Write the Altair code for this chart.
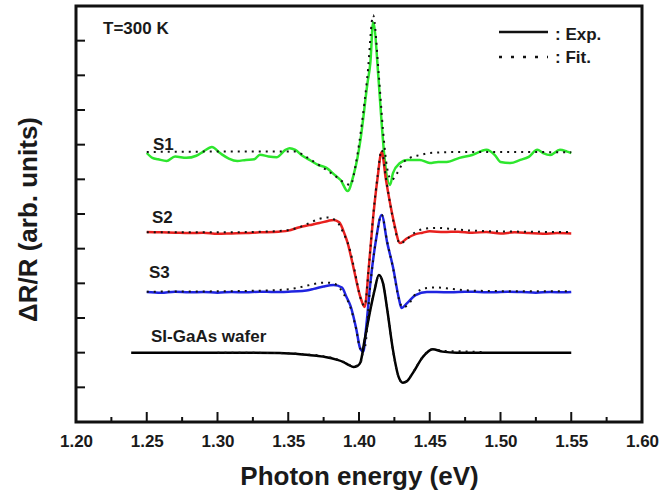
import altair as alt
import pandas as pd

# ---- photoreflectance spectra (ΔR/R, arbitrary units, offset per sample) ----
# SI-GaAs wafer
si_E = [1.239, 1.26, 1.28, 1.30, 1.32, 1.344, 1.360, 1.370, 1.377, 1.384, 1.389, 1.393,
        1.396, 1.399, 1.401, 1.404, 1.408, 1.411, 1.414, 1.417, 1.420, 1.424, 1.428,
        1.431, 1.434, 1.438, 1.445, 1.452, 1.459, 1.469, 1.48, 1.50, 1.52, 1.55]
si_R = [2.00, 2.00, 2.00, 2.00, 2.00, 1.99, 1.95, 1.91, 1.87, 1.80, 1.73, 1.64,
        1.59, 1.62, 1.72, 2.37, 3.23, 3.80, 4.24, 4.00, 3.23, 2.08, 1.30,
        1.13, 1.18, 1.41, 1.87, 2.10, 2.03, 2.00, 2.00, 2.00, 2.00, 2.00]
si_fit_E = [1.30, 1.34, 1.36, 1.38, 1.39, 1.396, 1.401, 1.404, 1.408, 1.411, 1.414, 1.417,
            1.420, 1.424, 1.428, 1.431, 1.434, 1.438, 1.445, 1.452, 1.46, 1.47, 1.48, 1.49]
si_fit_R = [2.00, 1.99, 1.96, 1.86, 1.72, 1.60, 1.70, 2.35, 3.25, 3.82, 4.22, 4.00,
            3.25, 2.06, 1.30, 1.12, 1.18, 1.42, 1.88, 2.10, 2.05, 2.04, 2.03, 2.01]

# S3
s3_E = [1.250, 1.260, 1.270, 1.280, 1.290, 1.300, 1.310, 1.320, 1.330, 1.340, 1.350, 1.360,
        1.368, 1.375, 1.382, 1.388, 1.391, 1.394, 1.398, 1.401, 1.403, 1.405, 1.408, 1.412,
        1.416, 1.420, 1.424, 1.428, 1.430, 1.434, 1.440, 1.448, 1.455, 1.465, 1.475, 1.485,
        1.495, 1.505, 1.515, 1.525, 1.535, 1.545, 1.550]
s3_R = [3.75, 3.73, 3.76, 3.74, 3.75, 3.73, 3.75, 3.74, 3.76, 3.75, 3.76, 3.78,
        3.84, 3.91, 3.95, 3.88, 3.62, 3.35, 2.70, 2.10, 2.03, 2.70, 4.00, 5.25,
        5.97, 5.16, 4.47, 3.60, 3.29, 3.43, 3.66, 3.75, 3.75, 3.74, 3.76, 3.75,
        3.74, 3.76, 3.75, 3.73, 3.75, 3.74, 3.75]
s3_fit_E = [1.25, 1.30, 1.34, 1.355, 1.365, 1.372, 1.378, 1.384, 1.389, 1.394, 1.398,
            1.401, 1.404, 1.408, 1.412, 1.416, 1.420, 1.424, 1.428, 1.431, 1.435, 1.440,
            1.447, 1.455, 1.465, 1.475, 1.49, 1.52, 1.55]
s3_fit_R = [3.76, 3.77, 3.80, 3.86, 3.95, 4.01, 4.02, 3.96, 3.70, 3.30, 2.68,
            2.12, 2.15, 3.95, 5.25, 5.98, 5.18, 4.45, 3.58, 3.30, 3.40, 3.70,
            3.86, 3.88, 3.84, 3.80, 3.78, 3.77, 3.77]

# S2
s2_E = [1.250, 1.260, 1.270, 1.280, 1.290, 1.300, 1.310, 1.320, 1.330, 1.340, 1.350, 1.358,
        1.365, 1.372, 1.378, 1.382, 1.386, 1.390, 1.392, 1.396, 1.401, 1.404, 1.407, 1.410,
        1.413, 1.416, 1.419, 1.422, 1.425, 1.429, 1.434, 1.440, 1.445, 1.450, 1.460, 1.470,
        1.480, 1.490, 1.500, 1.510, 1.520, 1.530, 1.540, 1.550]
s2_R = [5.48, 5.47, 5.46, 5.45, 5.46, 5.43, 5.44, 5.45, 5.47, 5.48, 5.52, 5.62,
        5.68, 5.74, 5.80, 5.83, 5.76, 5.40, 5.16, 4.47, 3.60, 3.32, 4.50, 5.90,
        7.00, 7.79, 7.00, 6.30, 5.70, 5.16, 5.30, 5.42, 5.46, 5.50, 5.48, 5.49,
        5.46, 5.48, 5.44, 5.47, 5.45, 5.43, 5.45, 5.44]
s2_fit_E = [1.25, 1.30, 1.34, 1.355, 1.365, 1.372, 1.378, 1.384, 1.389, 1.393, 1.397,
            1.401, 1.404, 1.407, 1.410, 1.413, 1.416, 1.419, 1.422, 1.425, 1.429, 1.434,
            1.440, 1.447, 1.455, 1.465, 1.48, 1.50, 1.55]
s2_fit_R = [5.47, 5.47, 5.50, 5.58, 5.74, 5.86, 5.90, 5.80, 5.45, 5.05, 4.35,
            3.58, 3.35, 4.50, 5.95, 7.05, 7.85, 7.05, 6.30, 5.65, 5.15, 5.28,
            5.48, 5.58, 5.60, 5.57, 5.52, 5.50, 5.48]

# S1
s1_E = [1.250, 1.254, 1.258, 1.264, 1.270, 1.278, 1.285, 1.290, 1.296, 1.302, 1.308, 1.314,
        1.320, 1.326, 1.330, 1.336, 1.342, 1.348, 1.351, 1.355, 1.360, 1.365, 1.371, 1.377,
        1.383, 1.387, 1.392, 1.396, 1.399, 1.401, 1.406, 1.408, 1.410, 1.414, 1.416, 1.418,
        1.422, 1.424, 1.429, 1.434, 1.443, 1.450, 1.456, 1.462, 1.471, 1.480, 1.490, 1.496,
        1.500, 1.507, 1.514, 1.520, 1.526, 1.530, 1.535, 1.542, 1.547, 1.550]
s1_R = [7.76, 7.62, 7.58, 7.53, 7.66, 7.62, 7.68, 7.80, 7.93, 7.75, 7.60, 7.53,
        7.56, 7.58, 7.71, 7.66, 7.64, 7.85, 7.90, 7.85, 7.68, 7.56, 7.42, 7.33,
        7.12, 6.98, 6.66, 7.10, 7.64, 8.13, 9.78, 10.35, 11.53, 9.78, 8.62, 7.64,
        6.84, 7.18, 7.47, 7.56, 7.56, 7.47, 7.50, 7.50, 7.62, 7.70, 7.85, 7.70,
        7.50, 7.47, 7.56, 7.65, 7.85, 7.76, 7.70, 7.85, 7.80, 7.76]
s1_fit_E = [1.25, 1.30, 1.355, 1.363, 1.370, 1.377, 1.383, 1.389, 1.394, 1.398, 1.402,
            1.406, 1.410, 1.414, 1.417, 1.420, 1.423, 1.427, 1.431, 1.436, 1.443, 1.450,
            1.47, 1.50, 1.55]
s1_fit_R = [7.79, 7.80, 7.80, 7.64, 7.46, 7.27, 7.10, 6.92, 6.84, 7.50, 8.60,
            10.00, 11.73, 10.00, 8.40, 7.30, 6.98, 7.18, 7.47, 7.62, 7.70, 7.76,
            7.79, 7.79, 7.78]

samples = ["S1", "S2", "S3", "SI-GaAs"]
sample_colors = ["#2ee62e", "#e8201e", "#1f24e0", "#000000"]

# axis ticks
x_labels = [1.20, 1.25, 1.30, 1.35, 1.40, 1.45, 1.50, 1.55, 1.60]
x_major = [1.25, 1.30, 1.35, 1.40, 1.45, 1.50, 1.55]
x_minor = [1.225, 1.275, 1.325, 1.375, 1.425, 1.475, 1.525, 1.575]
y_ticks = [1, 2, 3, 4, 5, 6, 7, 8, 9, 10, 11]

W, H = 566, 416
FONT = "Liberation Sans"


def table(name, E, R):
    return pd.DataFrame({"sample": name, "E": E, "R": R})


exp_df = pd.concat([
    table("S1", s1_E, s1_R),
    table("S2", s2_E, s2_R),
    table("S3", s3_E, s3_R),
    table("SI-GaAs", si_E, si_R),
])
fit_df = pd.concat([
    table("S1", s1_fit_E, s1_fit_R),
    table("S2", s2_fit_E, s2_fit_R),
    table("S3", s3_fit_E, s3_fit_R),
    table("SI-GaAs", si_fit_E, si_fit_R),
])

x_scale = alt.Scale(domain=[1.20, 1.60], nice=False, zero=False)
y_scale = alt.Scale(domain=[0, 12], nice=False, zero=False)

x_axis = alt.Axis(
    values=x_labels, format=".2f", title="Photon energy (eV)",
    ticks=False, domain=False, grid=False, labelFlush=False, labelOverlap=False,
    labelFont=FONT, labelFontWeight="bold", labelFontSize=17, labelColor="#1a1a1a",
    labelPadding=11,
    titleFont=FONT, titleFontWeight="bold", titleFontSize=26, titleColor="#1a1a1a",
    titleX=W / 2, titleY=62, titleBaseline="alphabetic", titleAlign="center",
)
y_axis = alt.Axis(
    labels=False, ticks=False, domain=False, grid=False, title="ΔR/R (arb. units)",
    titleFont=FONT, titleFontWeight="bold", titleFontSize=26, titleColor="#1a1a1a",
    titleX=-48, titleY=H / 2 + 5, titleAngle=-90, titleAlign="center",
    titleBaseline="middle",
)

# one shared definition per positional channel, so every layer merges into the same axes
X = alt.X("E:Q", scale=x_scale, axis=x_axis)
Y = alt.Y("R:Q", scale=y_scale, axis=y_axis)

exp_lines = alt.Chart(exp_df).mark_line(strokeWidth=2.5, interpolate="monotone").encode(
    x=X, y=Y,
    color=alt.Color("sample:N", scale=alt.Scale(domain=samples, range=sample_colors),
                    legend=None),
    detail="sample:N",
)

fit_lines = alt.Chart(fit_df).mark_line(
    strokeWidth=2, strokeDash=[2, 5], color="#111111", interpolate="monotone"
).encode(x=X, y=Y, detail="sample:N")

# inward ticks along the frame
major_ticks = alt.Chart(pd.DataFrame({"E": x_major})).mark_rule(
    strokeWidth=2, color="#111111").encode(
    x=X, y=alt.value(H), y2=alt.value(H - 10),
)
minor_ticks = alt.Chart(pd.DataFrame({"E": x_minor})).mark_rule(
    strokeWidth=2, color="#111111").encode(
    x=X, y=alt.value(H), y2=alt.value(H - 5),
)
left_ticks = alt.Chart(pd.DataFrame({"R": y_ticks})).mark_rule(
    strokeWidth=2, color="#111111").encode(
    y=Y, x=alt.value(0), x2=alt.value(9),
)


def label(text, px, py):
    return alt.Chart(pd.DataFrame({"t": [text]})).mark_text(
        align="left", baseline="alphabetic", font=FONT, fontWeight="bold",
        fontSize=17, color="#1a1a1a",
    ).encode(text="t:N", x=alt.value(px), y=alt.value(py))


annotations = [
    label("T=300 K", 27, 28),
    label("S1", 77, 144),
    label("S2", 76, 217),
    label("S3", 73, 272),
    label("SI-GaAs wafer", 75, 336),
    label(": Exp.", 479, 34),
    label(": Fit.", 479, 57),
]

legend_exp = alt.Chart(pd.DataFrame({"k": ["Exp."]})).mark_rule(
    strokeWidth=2.5, color="#111111").encode(
    x=alt.value(423), x2=alt.value(472), y=alt.value(26))
legend_fit = alt.Chart(pd.DataFrame({"k": ["Fit."]})).mark_rule(
    strokeWidth=2.5, color="#111111", strokeDash=[3, 9]).encode(
    x=alt.value(423), x2=alt.value(472), y=alt.value(51))

chart = alt.layer(
    exp_lines, fit_lines, major_ticks, minor_ticks, left_ticks,
    legend_exp, legend_fit, *annotations,
).properties(
    width=W, height=H,
    padding={"left": 76, "top": 6, "right": 20, "bottom": 70},
    autosize=alt.AutoSizeParams(type="none"),
).configure_view(
    stroke="#111111", strokeWidth=3,
)

chart.save("out.html", embed_options={"renderer": "svg", "actions": False})
